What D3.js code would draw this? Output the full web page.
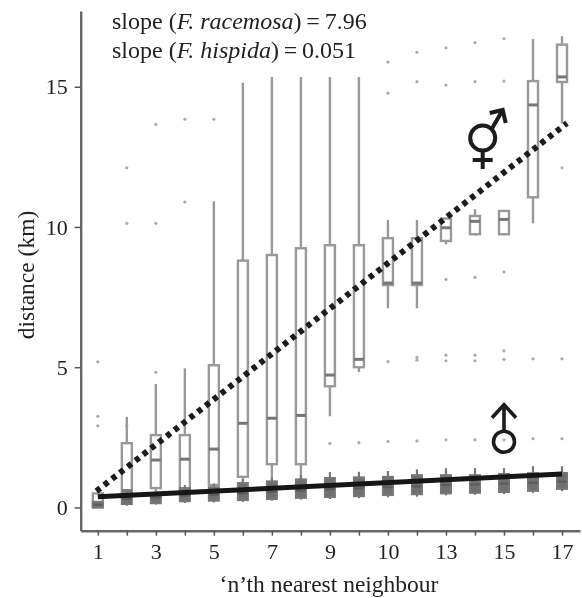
<!DOCTYPE html>
<html>
<head>
<meta charset="utf-8">
<script src="https://cdn.jsdelivr.net/npm/d3@7"></script>
<style>
html,body{margin:0;padding:0;background:#fff;}
text{font-family:"Liberation Serif",serif;fill:#222;}
</style>
</head>
<body>
<div id="root"></div>
<script>
const neighbours = [1,2,3,4,5,6,7,8,9,10,11,12,13,14,15,16,17];
const tickLabels = {1:'1',3:'3',5:'5',7:'7',9:'9',11:'10',13:'13',15:'15',17:'17'};

// F. racemosa boxes
const fLow  = [0,0.4,0.5,0.45,0.5,0.9,1.0,1.0,3.25,4.83,7.1,7.1,9.38,9.7,9.7,10.13,13.7];
const fQ1   = [0,0.5,0.69,0.5,0.8,1.09,1.54,1.54,4.32,5.0,7.93,7.93,9.5,9.74,9.74,11.06,15.17];
const fMed  = [0.1,0.6,1.69,1.72,2.08,3.0,3.18,3.28,4.72,5.28,8.0,8.0,9.97,10.2,10.27,14.35,15.35];
const fQ3   = [0.5,2.29,2.58,2.58,5.07,8.8,9.0,9.24,9.35,9.35,9.6,9.6,10.3,10.39,10.57,15.2,16.5];
const fHigh = [0.5,3.23,4.4,4.96,10.92,15.14,15.35,15.35,15.35,15.35,10.25,10.25,10.3,10.63,10.57,16.7,16.8];

// F. hispida boxes
const mLow  = [0,0.06,0.1,0.16,0.18,0.2,0.24,0.28,0.3,0.33,0.36,0.38,0.43,0.45,0.48,0.52,0.58];
const mQ1   = [0,0.12,0.15,0.22,0.24,0.26,0.3,0.34,0.37,0.4,0.44,0.47,0.5,0.52,0.55,0.59,0.66];
const mMed  = [0.1,0.3,0.35,0.42,0.45,0.5,0.55,0.6,0.65,0.68,0.72,0.75,0.8,0.82,0.85,0.88,0.92];
const mQ3   = [0.2,0.5,0.5,0.69,0.72,0.87,0.93,1.0,1.05,1.07,1.09,1.15,1.15,1.15,1.19,1.22,1.23];
const mHigh = [0.2,0.55,0.55,0.8,0.85,1.0,1.05,1.15,1.26,1.27,1.3,1.36,1.4,1.4,1.4,1.47,1.47];

const outX = [1,1,1,2,2,2,2,3,3,3,4,4,4,4,5,5,5,6,6,7,7,8,8,9,9,10,11,11,11,11,12,12,12,12,12,13,13,13,13,13,13,14,14,14,14,14,14,15,15,15,15,15,15,16,16,17,17,17];
const outY = [5.19,3.25,2.91,12.11,10.13,2.91,1.93,13.66,10.13,4.82,13.84,10.89,2.2,0.9,13.84,2.2,1.0,5.04,2.25,5.04,2.25,5.04,2.25,5.16,2.28,2.31,15.88,14.77,5.2,2.35,16.23,15.18,5.35,5.25,2.37,16.39,15.06,8.13,5.43,5.23,2.41,16.57,15.18,8.2,5.43,5.23,2.41,16.71,15.2,8.4,5.58,5.28,2.41,5.3,2.45,12.11,5.3,2.45];

const fitF = [[0.95,0.58],[17.17,13.7]];
const fitM = [[1,0.38],[17,1.19]];

const width = 582, height = 598;
const svg = d3.select('#root').append('svg')
  .attr('width',width).attr('height',height)
  .style('display','block')
  .style('filter','blur(0.4px)');

const x = d3.scaleLinear().domain([0.41,17.62]).range([80.7,580]);
const y = d3.scaleLinear().domain([-0.83,17.7]).range([530.7,11]);
const boxW = 10;

// outliers
svg.append('g').selectAll('circle')
  .data(outX).enter().append('circle')
  .attr('cx',d=>x(d))
  .attr('cy',(d,i)=>y(outY[i]))
  .attr('r',1.6)
  .attr('fill','#aaa');

// female boxes
const fg = svg.append('g').selectAll('g').data(neighbours).enter().append('g');
fg.append('line')
  .attr('x1',d=>x(d)).attr('x2',d=>x(d))
  .attr('y1',(d,i)=>y(fLow[i])).attr('y2',(d,i)=>y(fHigh[i]))
  .attr('stroke','#999').attr('stroke-width',2.4);
fg.append('rect')
  .attr('x',d=>x(d)-boxW/2).attr('width',boxW)
  .attr('y',(d,i)=>y(fQ3[i]))
  .attr('height',(d,i)=>y(fQ1[i])-y(fQ3[i]))
  .attr('fill','#fff').attr('stroke','#999').attr('stroke-width',2.4);
fg.append('line')
  .attr('x1',d=>x(d)-boxW/2).attr('x2',d=>x(d)+boxW/2)
  .attr('y1',(d,i)=>y(fMed[i])).attr('y2',(d,i)=>y(fMed[i]))
  .attr('stroke','#777').attr('stroke-width',3);

// male boxes
const mg = svg.append('g').selectAll('g').data(neighbours).enter().append('g');
mg.append('line')
  .attr('x1',d=>x(d)).attr('x2',d=>x(d))
  .attr('y1',(d,i)=>y(mLow[i])).attr('y2',(d,i)=>y(mHigh[i]))
  .attr('stroke','#777').attr('stroke-width',2.2);
mg.append('rect')
  .attr('x',d=>x(d)-boxW/2).attr('width',boxW)
  .attr('y',(d,i)=>y(mQ3[i]))
  .attr('height',(d,i)=>y(mQ1[i])-y(mQ3[i]))
  .attr('fill','#707070').attr('stroke','#777').attr('stroke-width',2);
mg.append('line')
  .attr('x1',d=>x(d)-boxW/2).attr('x2',d=>x(d)+boxW/2)
  .attr('y1',(d,i)=>y(mMed[i])).attr('y2',(d,i)=>y(mMed[i]))
  .attr('stroke','#5c5c5c').attr('stroke-width',2);

// fit lines
const line = d3.line().x(d=>x(d[0])).y(d=>y(d[1]));
svg.append('path').attr('d',line(fitF)).attr('fill','none')
  .attr('stroke','#1c1c1c').attr('stroke-width',6).attr('stroke-dasharray','5 4.9');
svg.append('path').attr('d',line(fitM)).attr('fill','none')
  .attr('stroke','#161616').attr('stroke-width',5);

// axes
const xAxis = d3.axisBottom(x).tickValues(neighbours)
  .tickFormat(d=>tickLabels[d]||'').tickSizeInner(5).tickSizeOuter(0).tickPadding(8);
const yAxis = d3.axisLeft(y).tickValues([0,5,10,15]).tickSizeInner(6).tickSizeOuter(0).tickPadding(7);
const gx = svg.append('g').attr('transform','translate(0,530.7)').call(xAxis);
const gy = svg.append('g').attr('transform','translate(80.7,0)').call(yAxis);
[gx,gy].forEach(g=>{
  g.select('.domain').attr('stroke','#666').attr('stroke-width',2.4);
  g.selectAll('.tick line').attr('stroke','#555').attr('stroke-width',1.5);
  g.selectAll('text').style('font-size','22px').style('font-family','"Liberation Serif",serif').attr('fill','#222');
});

// axis titles
svg.append('text').text('\u2018n\u2019th nearest neighbour')
  .attr('x',329).attr('y',592).attr('text-anchor','middle').style('font-size','23.5px');
svg.append('text').text('distance (km)')
  .attr('transform','translate(33.5,275) rotate(-90)').attr('text-anchor','middle').style('font-size','23.5px');

// slope notes
const note1 = svg.append('text').attr('x',112).attr('y',29).style('font-size','24px');
note1.append('tspan').text('slope (');
note1.append('tspan').text('F. racemosa').style('font-style','italic');
note1.append('tspan').text(')\u2009=\u20097.96');
const note2 = svg.append('text').attr('x',112).attr('y',58).style('font-size','24px');
note2.append('tspan').text('slope (');
note2.append('tspan').text('F. hispida').style('font-style','italic');
note2.append('tspan').text(')\u2009=\u20090.051');

// sex symbols, drawn in pixels around their circle centres
const both = svg.append('g').attr('transform','translate(482.7,138)')
  .attr('fill','none').attr('stroke','#1c1c1c').attr('stroke-width',4);
both.append('circle').attr('r',12.5);
both.append('path').attr('d','M0,12.5V31M-10,22H10M9,-9L20,-28M7,-25L20,-28L23,-15');
const single = svg.append('g').attr('transform','translate(504,441.7)')
  .attr('fill','none').attr('stroke','#1c1c1c').attr('stroke-width',3.6);
single.append('circle').attr('r',10.5);
single.append('path').attr('d','M0,-10.5V-37M-12,-24L0,-37L12,-24');
</script>
</body>
</html>
